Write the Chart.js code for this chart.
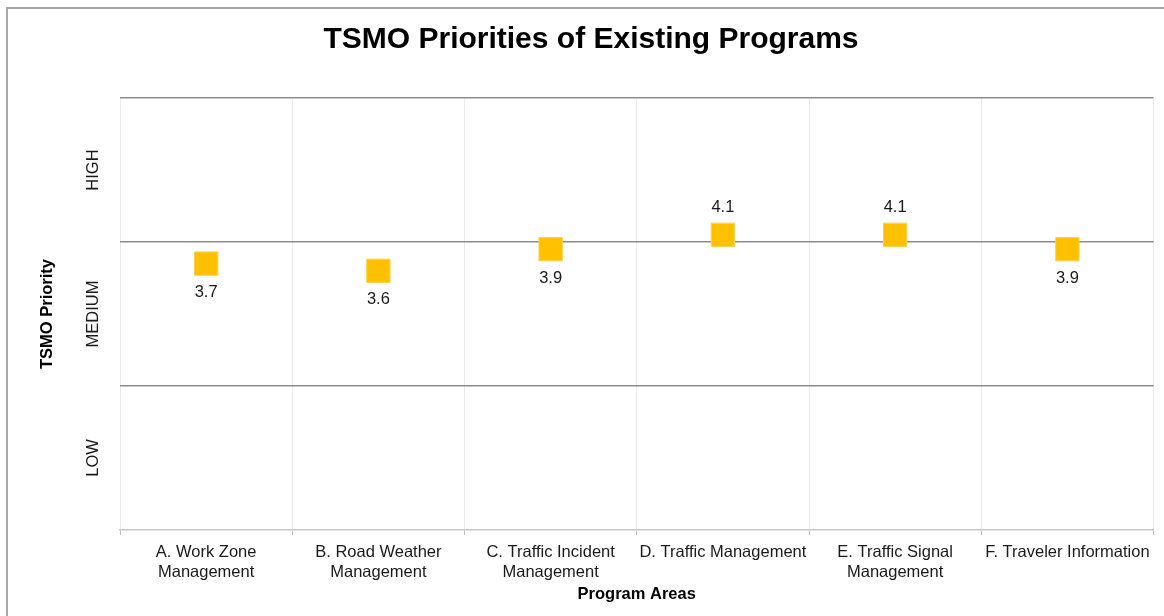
<!DOCTYPE html>
<html>
<head>
<meta charset="utf-8">
<script src="https://cdn.jsdelivr.net/npm/chart.js@4.4.1/dist/chart.umd.min.js"></script>
<style>
  html, body { margin: 0; padding: 0; background: #fff; overflow: hidden; }
  #wrap { position: relative; width: 1164px; height: 616px; overflow: hidden; }
  #frame { position: absolute; left: 6px; top: 7px; width: 1300px; height: 800px;
           border-left: 2px solid #a6a6a6; border-top: 2px solid #a6a6a6; pointer-events: none; }
  canvas { position: absolute; left: 0; top: 0; }
</style>
</head>
<body>
<div id="wrap">
  <canvas id="priorityChart" width="1171" height="616"></canvas>
  <div id="frame"></div>
</div>
<script>
const programAreas = [
    ['A. Work Zone', 'Management'],
    ['B. Road Weather', 'Management'],
    ['C. Traffic Incident', 'Management'],
    'D. Traffic Management',
    ['E. Traffic Signal', 'Management'],
    'F. Traveler Information'
];
const priorityScores = [3.7, 3.6, 3.9, 4.1, 4.1, 3.9];
const priorityLevels = { 1: 'LOW', 3: 'MEDIUM', 5: 'HIGH' };

const FONT = "'Liberation Sans', Arial, sans-serif";

// value labels: above the marker from 4 up, below it otherwise
const valueLabels = {
    id: 'valueLabels',
    afterDatasetsDraw(chart) {
        const ctx = chart.ctx;
        const meta = chart.getDatasetMeta(0);
        ctx.save();
        ctx.font = '16.5px ' + FONT;
        ctx.fillStyle = '#1a1a1a';
        ctx.textAlign = 'center';
        ctx.textBaseline = 'middle';
        meta.data.forEach((pt, i) => {
            const v = priorityScores[i];
            const dy = v >= 4 ? -27 : 29;
            ctx.fillText(v.toFixed(1), pt.x, pt.y + dy);
        });
        ctx.restore();
    }
};

new Chart(document.getElementById('priorityChart'), {
    type: 'line',
    data: {
        labels: programAreas,
        datasets: [{
            label: 'TSMO Priority',
            data: priorityScores,
            showLine: false,
            pointStyle: 'rect',
            pointRadius: 16.5,
            pointHoverRadius: 16.5,
            pointBackgroundColor: '#FFC000',
            pointBorderColor: '#FFD24D',
            pointBorderWidth: 1
        }]
    },
    options: {
        responsive: false,
        animation: false,
        layout: { padding: { left: 11, right: 0, top: 0, bottom: 12 } },
        plugins: {
            legend: { display: false },
            tooltip: { enabled: false },
            title: {
                display: true,
                text: 'TSMO Priorities of Existing Programs',
                color: '#000',
                font: { family: FONT, size: 30, weight: 'bold' },
                padding: { top: 22, bottom: 40 }
            }
        },
        scales: {
            x: {
                offset: true,
                grid: {
                    offset: true,
                    color: '#ebebeb',
                    tickColor: '#bdbdbd',
                    tickLength: 5
                },
                border: { color: '#c8c8c8', width: 1.5 },
                ticks: {
                    color: '#1a1a1a',
                    padding: 8,
                    maxRotation: 0,
                    autoSkip: false,
                    font: { family: FONT, size: 16.5 }
                },
                title: {
                    display: true,
                    text: 'Program Areas',
                    color: '#000',
                    font: { family: FONT, size: 16.5, weight: 'bold' },
                    padding: { top: 3, bottom: 0 }
                },
                afterFit(scale) {
                    scale.height = 74;
                    scale.paddingLeft = 0;
                    scale.paddingRight = 0;
                }
            },
            y: {
                min: 0,
                max: 6,
                border: { display: false },
                grid: {
                    drawTicks: false,
                    lineWidth: 1.6,
                    color: ctx => (ctx.tick.value % 2 === 0 && ctx.tick.value > 0) ? '#8c8c8c' : 'rgba(0,0,0,0)'
                },
                ticks: {
                    stepSize: 1,
                    minRotation: 90,
                    maxRotation: 90,
                    crossAlign: 'center',
                    padding: -7,
                    color: '#1a1a1a',
                    font: { family: FONT, size: 16.5 },
                    callback: v => priorityLevels[v] || ''
                },
                title: {
                    display: true,
                    text: 'TSMO Priority',
                    color: '#000',
                    font: { family: FONT, size: 16.5, weight: 'bold' },
                    padding: { top: 27, bottom: 0 }
                },
                afterFit(scale) { scale.width = 109; }
            }
        }
    },
    plugins: [valueLabels]
});
</script>
</body>
</html>
